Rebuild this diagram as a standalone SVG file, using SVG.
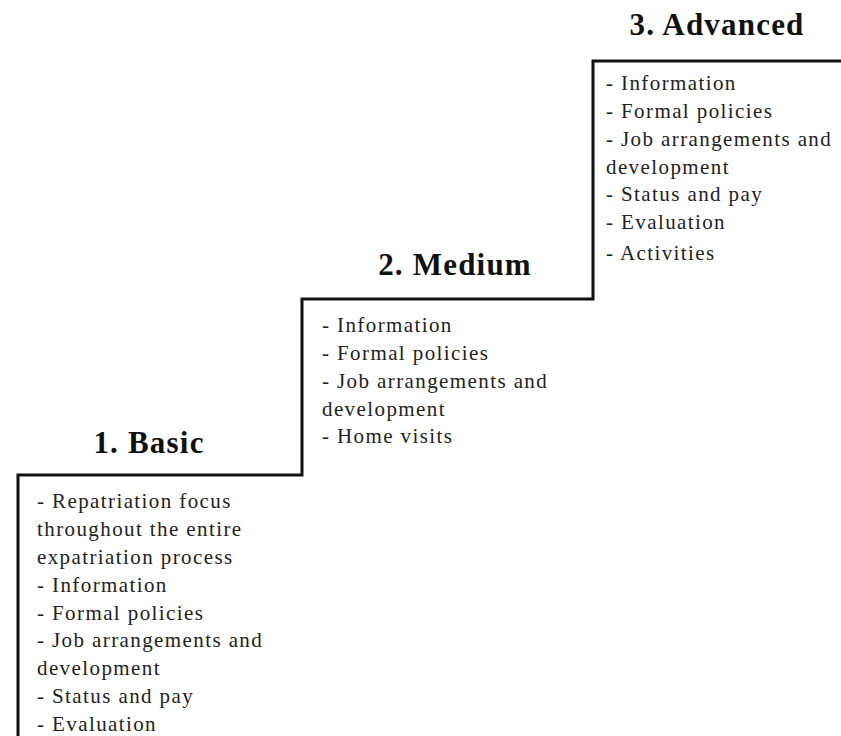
<svg xmlns="http://www.w3.org/2000/svg" width="841" height="736" viewBox="0 0 841 736">
<style>
.h{font-family:"Liberation Serif","Times New Roman",serif;font-weight:bold;font-size:31px;fill:#111;text-anchor:middle;letter-spacing:1.2px}
.t{font-family:"Liberation Serif","Times New Roman",serif;font-size:21px;fill:#222;letter-spacing:1.4px}
.stair{fill:none;stroke:#111;stroke-width:3}
</style>
<rect width="841" height="736" fill="#fff"/>
<g id="connectors">
<path class="stair" d="M18,736 V475 H302 V299 H593 V61 H841"/>
</g>
<g id="basic">
<text class="h" x="149" y="453">1. Basic</text>
<text class="t" x="37" y="508">- Repatriation focus</text>
<text class="t" x="37" y="536">throughout the entire</text>
<text class="t" x="37" y="564">expatriation process</text>
<text class="t" x="37" y="592">- Information</text>
<text class="t" x="37" y="620">- Formal policies</text>
<text class="t" x="37" y="647">- Job arrangements and</text>
<text class="t" x="37" y="675">development</text>
<text class="t" x="37" y="703">- Status and pay</text>
<text class="t" x="37" y="731">- Evaluation</text>
</g>
<g id="medium">
<text class="h" x="455" y="275">2. Medium</text>
<text class="t" x="322" y="332">- Information</text>
<text class="t" x="322" y="360">- Formal policies</text>
<text class="t" x="322" y="388">- Job arrangements and</text>
<text class="t" x="322" y="416">development</text>
<text class="t" x="322" y="443">- Home visits</text>
</g>
<g id="advanced">
<text class="h" x="717" y="35">3. Advanced</text>
<text class="t" x="606" y="90">- Information</text>
<text class="t" x="606" y="118">- Formal policies</text>
<text class="t" x="606" y="146">- Job arrangements and</text>
<text class="t" x="606" y="174">development</text>
<text class="t" x="606" y="201">- Status and pay</text>
<text class="t" x="606" y="229">- Evaluation</text>
<text class="t" x="606" y="260">- Activities</text>
</g>
</svg>
